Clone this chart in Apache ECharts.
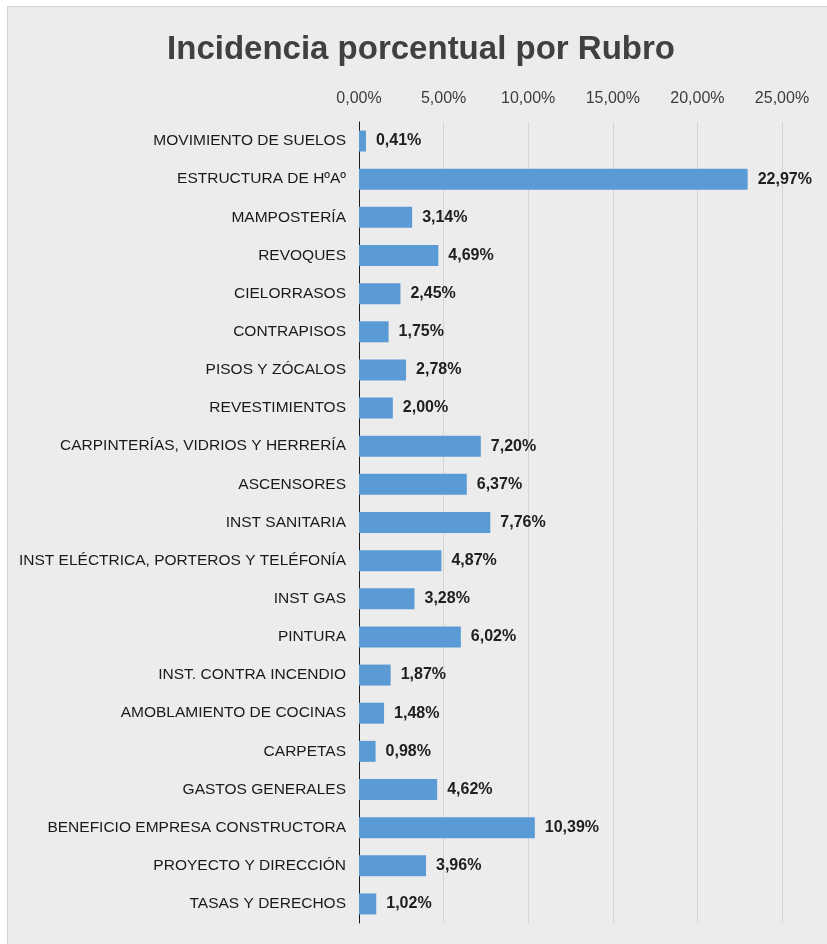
<!DOCTYPE html>
<html>
<head>
<meta charset="utf-8">
<title>Incidencia porcentual por Rubro</title>
<script src="https://cdn.jsdelivr.net/npm/echarts@6/dist/echarts.min.js"></script>
<style>
  html, body { margin: 0; padding: 0; background: #ffffff; }
  #chart {
    position: absolute;
    left: 7px;
    top: 6px;
    width: 819px;
    height: 937px;
    border-left: 1px solid #d6cfd8;
    border-top: 1px solid #d6cfd8;
  }
</style>
</head>
<body>
<div id="chart"></div>
<script>
// rubros, en el orden del gráfico (de arriba a abajo)
var rubros = [
  'MOVIMIENTO DE SUELOS',
  'ESTRUCTURA DE HºAº',
  'MAMPOSTERÍA',
  'REVOQUES',
  'CIELORRASOS',
  'CONTRAPISOS',
  'PISOS Y ZÓCALOS',
  'REVESTIMIENTOS',
  'CARPINTERÍAS, VIDRIOS Y HERRERÍA',
  'ASCENSORES',
  'INST SANITARIA',
  'INST ELÉCTRICA, PORTEROS Y TELÉFONÍA',
  'INST GAS',
  'PINTURA',
  'INST. CONTRA INCENDIO',
  'AMOBLAMIENTO DE COCINAS',
  'CARPETAS',
  'GASTOS GENERALES',
  'BENEFICIO EMPRESA CONSTRUCTORA',
  'PROYECTO Y DIRECCIÓN',
  'TASAS Y DERECHOS'
]
// incidencia en %
var incidencia = [
  0.41, 22.97, 3.14, 4.69, 2.45, 1.75, 2.78, 2.00, 7.20, 6.37, 7.76,
  4.87, 3.28, 6.02, 1.87, 1.48, 0.98, 4.62, 10.39, 3.96, 1.02
]
var ejeMin = 0
var ejeMax = 25
var ejePaso = 5

function pct(v) {
  return v.toFixed(2).replace('.', ',') + '%'
}

var chart = echarts.init(document.getElementById('chart'))
chart.setOption({
  backgroundColor: '#ececec',
  animation: false,
  textStyle: { fontFamily: 'Liberation Sans, Arial, sans-serif' },
  title: {
    text: 'Incidencia porcentual por Rubro',
    left: 408,
    top: 21,
    textAlign: 'center',
    textStyle: {
      color: '#404040',
      fontSize: 33,
      fontWeight: 'bold',
      fontFamily: 'Liberation Sans, Arial, sans-serif'
    }
  },
  grid: {
    left: 351,
    right: 45,
    top: 115,
    bottom: 21,
    containLabel: false
  },
  xAxis: {
    type: 'value',
    position: 'top',
    min: ejeMin,
    max: ejeMax,
    interval: ejePaso,
    axisLine: { show: false },
    axisTick: { show: false },
    splitLine: { lineStyle: { color: '#d4d4d4', width: 1 } },
    axisLabel: {
      color: '#3c3c3c',
      fontSize: 16,
      margin: 15,
      formatter: function (v) { return pct(v) }
    }
  },
  yAxis: {
    type: 'category',
    inverse: true,
    data: rubros,
    axisLine: { show: true, lineStyle: { color: '#1a1a1a', width: 1 } },
    axisTick: { show: false },
    axisLabel: {
      color: '#1a1a1a',
      fontSize: 15.5,
      margin: 13
    }
  },
  series: [
    {
      type: 'bar',
      data: incidencia,
      barWidth: 21,
      itemStyle: { color: '#5b9bd5' },
      label: {
        show: true,
        position: 'right',
        distance: 10,
        color: '#202020',
        fontSize: 16,
        fontWeight: 'bold',
        formatter: function (p) { return pct(p.value) }
      }
    }
  ]
})
</script>
</body>
</html>
